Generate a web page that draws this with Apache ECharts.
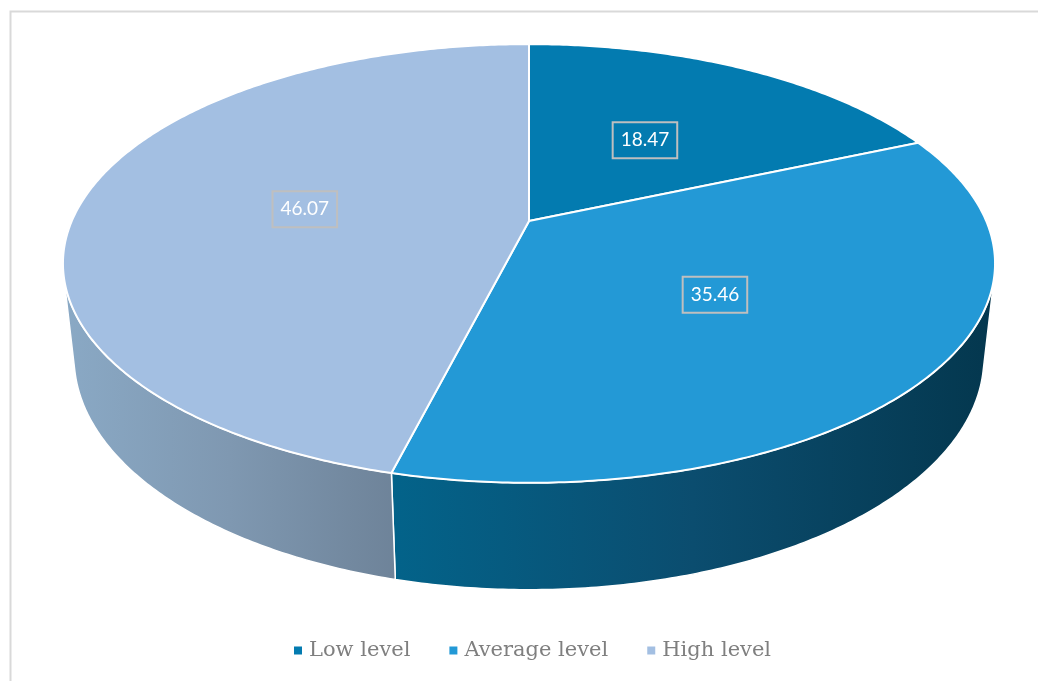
<!DOCTYPE html>
<html>
<head>
<meta charset="utf-8">
<script src="https://cdn.jsdelivr.net/npm/echarts@6/dist/echarts.min.js"></script>
<style>
  html, body { margin: 0; padding: 0; background: #ffffff; }
  #chart { width: 1038px; height: 681px; }
</style>
</head>
<body>
<div id="chart"></div>
<script>
// Shares of respondents by level (percent)
const categories = ['Low level', 'Average level', 'High level'];
const shares = [18.47, 35.46, 46.07];

// Colours of the top faces and of the lit/shaded ends of each side wall
const topColors = ['#037bb0', '#2399d6', '#a3bfe2'];
const sideColors = [
  ['#04587d', '#03354c'],
  ['#03638a', '#0b4d6f', '#04374e'],
  ['#8aa9c5', '#7f98b1', '#6e8399']
];

// Perspective camera for the tilted disc
const view = {
  cx: 529, cy: 221,      // projected centre of the disc
  scale: 2095,           // focal length in pixels
  dist: 4.582,           // camera distance (disc radius = 1)
  tilt: 27.5 * Math.PI / 180,
  depth: 0.234           // disc thickness
};
const ca = Math.cos(view.tilt), sb = Math.sin(view.tilt);

// theta measured clockwise from the far side of the disc
function project(theta, r, y) {
  const X = r * Math.sin(theta), Z = -r * Math.cos(theta);
  const dep = view.dist - y * sb - Z * ca;
  const sx = X * view.scale / dep;
  const sy = (y * ca - Z * sb) * view.scale / dep;
  return [view.cx + sx, view.cy - sy];
}

function arc(t0, t1, r, y) {
  const n = Math.max(8, Math.ceil(Math.abs(t1 - t0) / 0.01));
  const pts = [];
  for (let k = 0; k <= n; k++) pts.push(project(t0 + (t1 - t0) * k / n, r, y));
  return pts;
}

// The outer wall faces the camera where cos(theta) < -1 / (dist * cos(tilt))
const visA = Math.acos(-1 / (view.dist * ca));
const visB = 2 * Math.PI - visA;
const total = shares.reduce((a, b) => a + b, 0);

function renderSlice(params, api) {
  const i = params.seriesIndex;
  const v = api.value(0);
  let before = 0;
  for (let k = 0; k < i; k++) before += shares[k];
  const t0 = before / total * 2 * Math.PI;
  const t1 = (before + v) / total * 2 * Math.PI;
  const children = [];

  const s0 = Math.max(t0, visA), s1 = Math.min(t1, visB);
  if (s1 > s0) {
    const pts = arc(s0, s1, 1, 0).concat(arc(s1, s0, 1, -view.depth));
    const cols = sideColors[i];
    children.push({
      type: 'polygon',
      shape: { points: pts },
      style: {
        fill: {
          type: 'linear', x: 0, y: 0, x2: 1, y2: 0,
          colorStops: cols.map((c, k) => ({ offset: k / (cols.length - 1), color: c }))
        },
        stroke: '#ffffff', lineWidth: 1.5
      }
    });
  }

  children.push({
    type: 'polygon',
    shape: { points: [project(0, 0, 0)].concat(arc(t0, t1, 1, 0)) },
    style: { fill: topColors[i], stroke: '#ffffff', lineWidth: 2 }
  });

  const lp = project((t0 + t1) / 2, 0.5, 0);
  children.push({
    type: 'text',
    z2: 10,
    style: {
      text: String(v),
      x: lp[0], y: lp[1] + 1,
      align: 'center', verticalAlign: 'middle',
      fill: '#ffffff',
      fontFamily: 'Lato', fontSize: 19, lineHeight: 21,
      padding: [8, 8, 7, 8],
      borderColor: '#bfbfbf', borderWidth: 2
    }
  });
  return { type: 'group', children: children };
}

const chart = echarts.init(document.getElementById('chart'), null, { renderer: 'canvas' });
chart.setOption({
  animation: false,
  backgroundColor: '#ffffff',
  graphic: [{
    type: 'rect',
    shape: { x: 10.5, y: 11.5, width: 1100, height: 800 },
    style: { fill: null, stroke: '#d9d9d9', lineWidth: 2 },
    silent: true
  }],
  legend: {
    data: categories,
    left: 289,
    top: 635,
    icon: 'rect',
    itemWidth: 8,
    itemHeight: 8,
    itemGap: 39,
    textStyle: {
      fontFamily: 'DejaVu Serif',
      fontSize: 21,
      color: '#7f7f7f',
      padding: [0, 0, 0, 2]
    }
  },
  series: categories.map((name, i) => ({
    type: 'custom',
    name: name,
    coordinateSystem: 'none',
    itemStyle: { color: topColors[i] },
    renderItem: renderSlice,
    data: [[shares[i]]]
  }))
});
</script>
</body>
</html>
